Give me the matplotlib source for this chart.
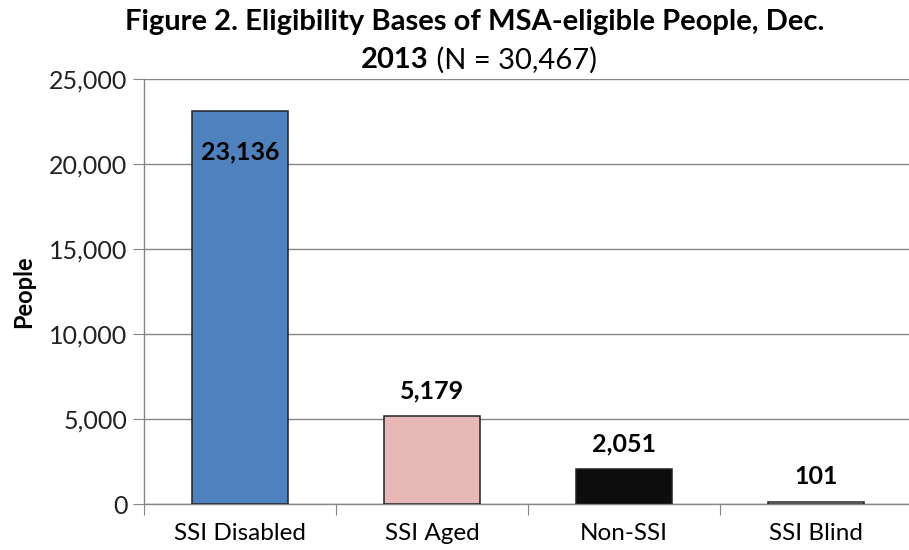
import matplotlib
matplotlib.use("Agg")
from matplotlib import pyplot as plt
from matplotlib.ticker import FuncFormatter

categories = ["SSI Disabled", "SSI Aged", "Non-SSI", "SSI Blind"]
people = [23136, 5179, 2051, 101]
bar_colors = ["#4F81BD", "#E6B9B8", "#0D0D0D", "#FFFFFF"]

plt.rcParams["font.family"] = ["Lato", "DejaVu Sans"]

fig = plt.figure(figsize=(9.09, 5.5), dpi=100)
ax = fig.add_axes([144 / 909, 46 / 550, 1 - 144 / 909, 425 / 550])

x = list(range(len(categories)))
ax.bar(x, people, width=0.5, color=bar_colors, edgecolor="#222222", linewidth=1.1, zorder=3)

ax.set_xlim(-0.5, 3.484)
ax.set_ylim(0, 25000)
ax.set_yticks(range(0, 25001, 5000))
ax.yaxis.set_major_formatter(FuncFormatter(lambda v, p: f"{int(v):,}"))
ax.grid(axis="y", color="#868686", linewidth=1, zorder=0)

ax.set_xticks([-0.5, 0.5, 1.5, 2.5])
ax.set_xticklabels([])
ax.set_xticks(x, minor=True)
ax.set_xticklabels(categories, minor=True, fontsize=17.5)
ax.tick_params(axis="x", which="minor", length=0, pad=14)
ax.tick_params(axis="x", which="major", length=8, color="#868686")
ax.tick_params(axis="y", length=8, color="#868686", labelsize=18, pad=4, labelcolor="#222222")

for s in ["top", "right"]:
    ax.spines[s].set_visible(False)
for s in ["left", "bottom"]:
    ax.spines[s].set_color("#868686")
    ax.spines[s].set_linewidth(1)

ax.set_ylabel("People", fontsize=17, fontweight="bold", labelpad=10)

for i, v in enumerate(people):
    if i == 0:
        ax.annotate(f"{v:,}", (i, v), xytext=(0, -53), textcoords="offset pixels",
                    ha="center", va="bottom", fontsize=18, fontweight="bold", zorder=4)
    else:
        ax.annotate(f"{v:,}", (i, v), xytext=(0, 14), textcoords="offset pixels",
                    ha="center", va="bottom", fontsize=18, fontweight="bold", zorder=4)

fig.text(475 / 909, 1 - 22 / 550, "Figure 2. Eligibility Bases of MSA-eligible People, Dec.",
         ha="center", va="center", fontsize=21, fontweight="bold")

# second title line: bold year, normal count
fig.canvas.draw()
r = fig.canvas.get_renderer()
t1 = fig.text(0, 1 - 60 / 550, "2013", ha="left", va="center", fontsize=21, fontweight="bold")
t2 = fig.text(0, 1 - 60 / 550, " (N = 30,467)", ha="left", va="center", fontsize=21)
w1 = t1.get_window_extent(r).width
w2 = t2.get_window_extent(r).width
x0 = 479 - (w1 + w2) / 2
t1.set_x(x0 / 909)
t2.set_x((x0 + w1) / 909)

fig.savefig("out.png", dpi=100)
